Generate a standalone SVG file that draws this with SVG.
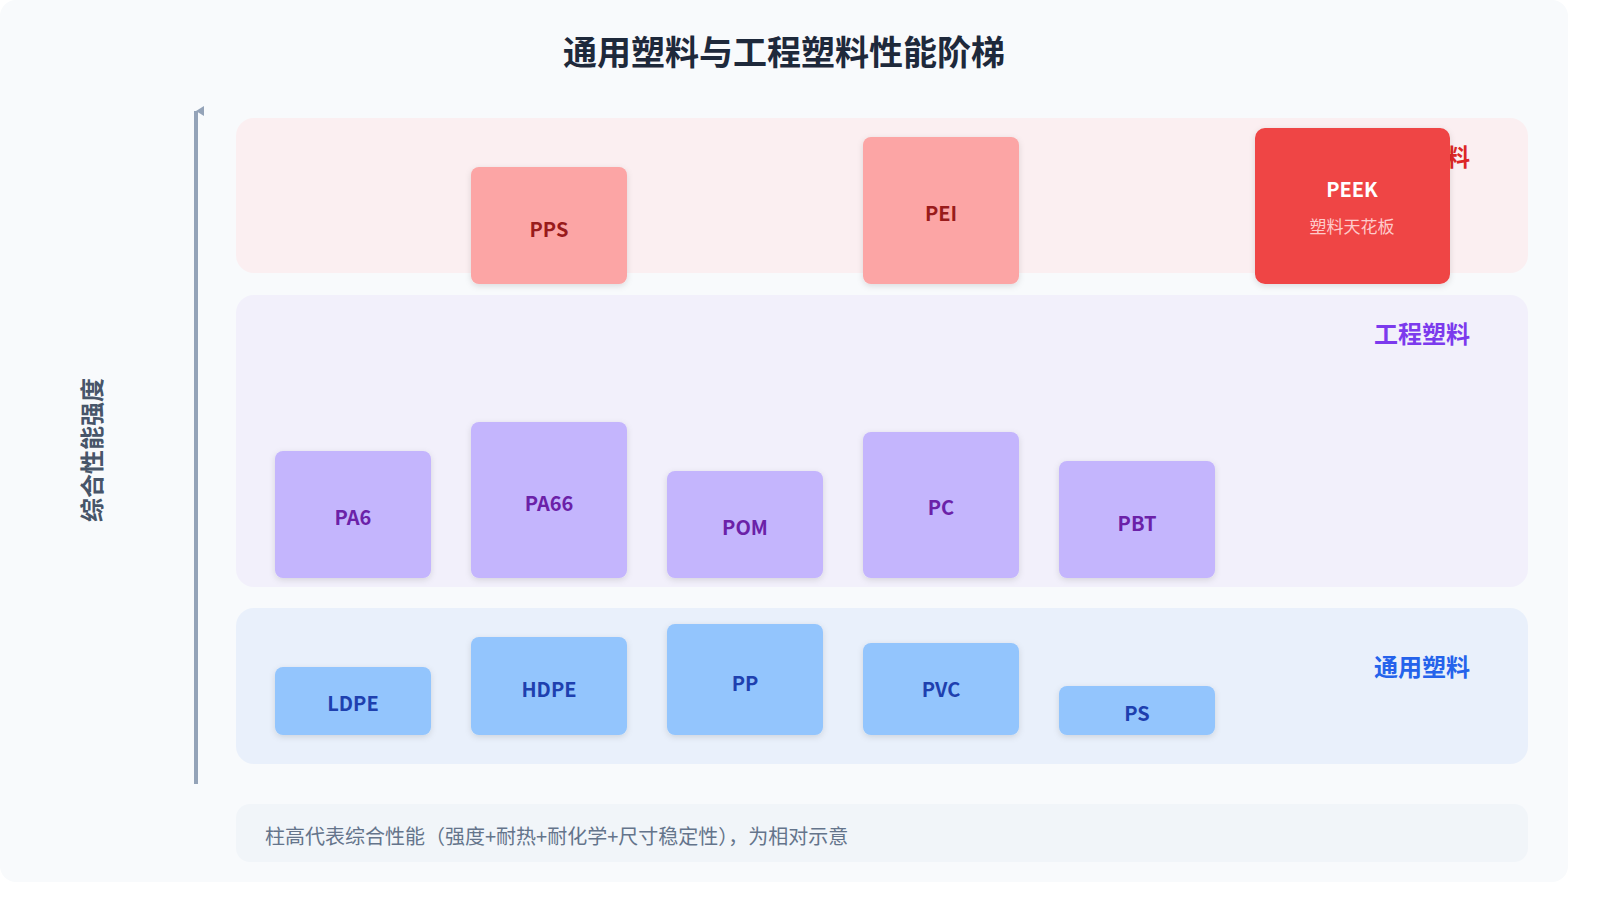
<svg xmlns="http://www.w3.org/2000/svg" width="1600" height="900" viewBox="0 0 1600 900">
<style>
text{font-family:"Noto Sans CJK SC","Noto Sans","DejaVu Sans",sans-serif}
.bl{font-weight:bold;font-size:20px;text-anchor:middle;dominant-baseline:central}
.b1{fill:#93c5fd}.t1{fill:#1e40af}
.b2{fill:#c4b5fd}.t2{fill:#6b21a8}
.b3{fill:#fca5a5}.t3{fill:#991b1b}
.band{font-weight:bold;font-size:24px;text-anchor:end}
</style>
<defs>
<filter id="sh" x="-10%" y="-10%" width="120%" height="130%"><feDropShadow dx="0" dy="2" stdDeviation="3" flood-color="#000" flood-opacity="0.12"/></filter>
<marker id="ar" markerWidth="10" markerHeight="10" refX="5" refY="0" viewBox="0 -1 10 10" orient="auto-start-reverse" markerUnits="userSpaceOnUse"><path d="M0,8 L5,0 L10,8 Z" fill="#94a3b8"/></marker>
</defs>
<rect width="1600" height="900" fill="#fff"/>
<rect x="0" y="0" width="1568" height="882" rx="16" fill="#f8fafc"/>
<text x="784" y="50" text-anchor="middle" dominant-baseline="central" font-size="34" font-weight="bold" fill="#1e293b">通用塑料与工程塑料性能阶梯</text>
<g id="bands">
<rect x="236" y="118" width="1292" height="155" rx="18" fill="#fbeff1"/>
<rect x="236" y="295" width="1292" height="292" rx="18" fill="#f2f0fb"/>
<rect x="236" y="608" width="1292" height="156" rx="18" fill="#e9f0fb"/>
<text class="band" x="1470" y="166" fill="#dc2626">特种工程塑料</text>
<text class="band" x="1470" y="343" fill="#7c3aed">工程塑料</text>
<text class="band" x="1470" y="676" fill="#2563eb">通用塑料</text>
</g>
<g id="connectors">
<line x1="196" y1="784" x2="196" y2="111" stroke="#94a3b8" stroke-width="4" marker-end="url(#ar)"/>
</g>
<text transform="translate(90,450) rotate(-90)" text-anchor="middle" dominant-baseline="central" font-size="24" font-weight="bold" fill="#475569">综合性能强度</text>
<g id="LDPE"><rect class="b1" filter="url(#sh)" x="275" y="667" width="156" height="68" rx="8"/><text class="bl t1" x="353" y="702">LDPE</text></g>
<g id="HDPE"><rect class="b1" filter="url(#sh)" x="471" y="637" width="156" height="98" rx="8"/><text class="bl t1" x="549" y="688">HDPE</text></g>
<g id="PP"><rect class="b1" filter="url(#sh)" x="667" y="624" width="156" height="111" rx="8"/><text class="bl t1" x="745" y="682">PP</text></g>
<g id="PVC"><rect class="b1" filter="url(#sh)" x="863" y="643" width="156" height="92" rx="8"/><text class="bl t1" x="941" y="688">PVC</text></g>
<g id="PS"><rect class="b1" filter="url(#sh)" x="1059" y="686" width="156" height="49" rx="8"/><text class="bl t1" x="1137" y="712">PS</text></g>
<g id="PA6"><rect class="b2" filter="url(#sh)" x="275" y="451" width="156" height="127" rx="8"/><text class="bl t2" x="353" y="516">PA6</text></g>
<g id="PA66"><rect class="b2" filter="url(#sh)" x="471" y="422" width="156" height="156" rx="8"/><text class="bl t2" x="549" y="502">PA66</text></g>
<g id="POM"><rect class="b2" filter="url(#sh)" x="667" y="471" width="156" height="107" rx="8"/><text class="bl t2" x="745" y="526">POM</text></g>
<g id="PC"><rect class="b2" filter="url(#sh)" x="863" y="432" width="156" height="146" rx="8"/><text class="bl t2" x="941" y="506">PC</text></g>
<g id="PBT"><rect class="b2" filter="url(#sh)" x="1059" y="461" width="156" height="117" rx="8"/><text class="bl t2" x="1137" y="522">PBT</text></g>
<g id="PPS"><rect class="b3" filter="url(#sh)" x="471" y="167" width="156" height="117" rx="8"/><text class="bl t3" x="549" y="228">PPS</text></g>
<g id="PEI"><rect class="b3" filter="url(#sh)" x="863" y="137" width="156" height="147" rx="8"/><text class="bl t3" x="941" y="212">PEI</text></g>
<g id="PEEK"><rect filter="url(#sh)" x="1255" y="128" width="195" height="156" rx="10" fill="#ef4444"/><text class="bl" x="1352" y="188" fill="#fff" font-size="21">PEEK</text><text x="1352" y="225" text-anchor="middle" dominant-baseline="central" font-size="17" fill="#fecaca">塑料天花板</text></g>
<g id="note"><rect x="236" y="804" width="1292" height="58" rx="14" fill="#f1f5f9"/><text x="265" y="835" dominant-baseline="central" font-size="20" fill="#64748b">柱高代表综合性能（强度+耐热+耐化学+尺寸稳定性），为相对示意</text></g>
</svg>
